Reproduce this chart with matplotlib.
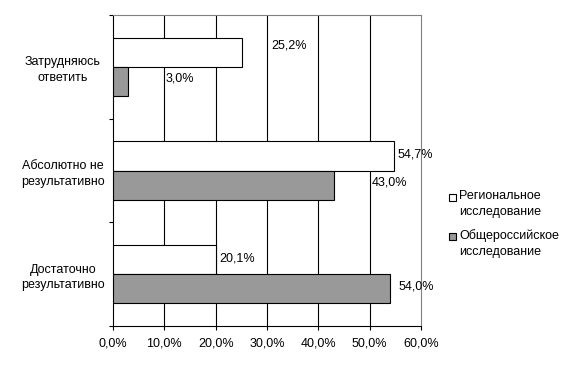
import numpy as np
import matplotlib
matplotlib.use('Agg')
import matplotlib.pyplot as plt
from matplotlib.patches import Rectangle

plt.rcParams['font.family'] = ['Liberation Sans', 'DejaVu Sans']
plt.rcParams['font.size'] = 9

# data
categories = ['Затрудняюсь\nответить', 'Абсолютно не\nрезультативно', 'Достаточно\nрезультативно']
regional = [25.2, 54.7, 20.1]
national = [3.0, 43.0, 54.0]
series_names = ['Региональное\nисследование', 'Общероссийское\nисследование']
x_ticks = [0, 10, 20, 30, 40, 50, 60]

# label offsets in pixels (dx from bar end, dy from bar centre, + is up)
reg_offsets = [(29, 7), (4, 1), (3, 1)]
nat_offsets = [(37, 3), (38, 3), (8, 2)]

fig = plt.figure(figsize=(5.81, 3.73), dpi=100)
ax = fig.add_axes([113 / 581, 1 - 326 / 373, 308 / 581, 311 / 373])

y = np.arange(len(categories))
h = 0.28
ax.barh(y - h / 2, regional, height=h, color='white', edgecolor='black', linewidth=0.8, zorder=3)
ax.barh(y + h / 2, national, height=h, color='#999999', edgecolor='black', linewidth=0.8, zorder=3)

px = 0.72
for i, v in enumerate(regional):
    dx, dy = reg_offsets[i]
    ax.annotate(f'{v:.1f}%'.replace('.', ','), (v, i - h / 2), xytext=(dx * px, dy * px),
                textcoords='offset points', ha='left', va='center', fontsize=9, zorder=4)
for i, v in enumerate(national):
    dx, dy = nat_offsets[i]
    ax.annotate(f'{v:.1f}%'.replace('.', ','), (v, i + h / 2), xytext=(dx * px, dy * px),
                textcoords='offset points', ha='left', va='center', fontsize=9, zorder=4)

ax.set_xlim(0, 60)
ax.set_ylim(len(categories) - 0.5, -0.5)
ax.set_xticks(x_ticks)
ax.set_xticklabels([f'{t:.1f}%'.replace('.', ',') for t in x_ticks])
ax.tick_params(axis='x', length=3, width=0.8, pad=5, color='black')

ax.set_yticks(y)
ax.set_yticklabels(categories, ha='center', multialignment='center', linespacing=1.4)
ax.tick_params(axis='y', which='major', length=0, pad=36)
ax.set_yticks(np.arange(len(categories) + 1) - 0.5, minor=True)
ax.tick_params(axis='y', which='minor', length=3, width=0.8, color='black')

for t in x_ticks[1:-1]:
    ax.axvline(t, color='black', linewidth=0.8, zorder=1)

ax.spines['left'].set_color('black')
ax.spines['bottom'].set_color('black')
ax.spines['top'].set_color('#808080')
ax.spines['right'].set_color('#808080')
for s in ax.spines.values():
    s.set_linewidth(0.8)

# legend
leg_colors = ['white', '#999999']
leg_tops = [193, 232]
for name, col, top in zip(series_names, leg_colors, leg_tops):
    fig.patches.append(Rectangle((449 / 581, 1 - (top + 8) / 373), 7 / 581, 7 / 373,
                                 transform=fig.transFigure, facecolor=col,
                                 edgecolor='black', linewidth=0.8))
    fig.text(459 / 581, 1 - (top - 3) / 373, name, ha='left', va='top', fontsize=9,
             linespacing=1.4)

fig.savefig('out.png', dpi=100)
